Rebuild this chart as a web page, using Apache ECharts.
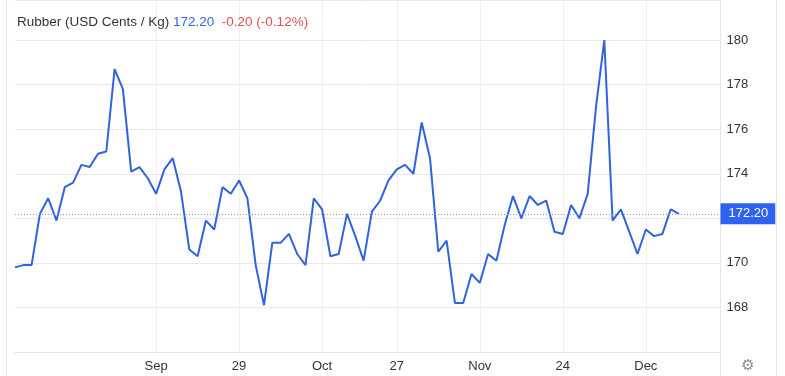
<!DOCTYPE html>
<html>
<head>
<meta charset="utf-8">
<style>
html,body{margin:0;padding:0;background:#fff;}
#chart{width:785px;height:376px;}
</style>
<script src="https://cdn.jsdelivr.net/npm/echarts@6/dist/echarts.min.js"></script>
</head>
<body>
<div id="chart"></div>
<script>
const values = [
  169.8, 169.9, 169.9, 172.2, 172.9, 171.9, 173.4, 173.6, 174.4, 174.3,
  174.9, 175.0, 178.7, 177.8, 174.1, 174.3, 173.8, 173.1, 174.2, 174.7,
  173.2, 170.6, 170.3, 171.9, 171.5, 173.4, 173.1, 173.7, 172.9, 169.9,
  168.1, 170.9, 170.9, 171.3, 170.4, 169.9, 172.9, 172.4, 170.3, 170.4,
  172.2, 171.2, 170.1, 172.3, 172.8, 173.7, 174.2, 174.4, 174.0, 176.3,
  174.7, 170.5, 171.0, 168.2, 168.2, 169.5, 169.1, 170.4, 170.1, 171.7,
  173.0, 172.0, 173.0, 172.6, 172.8, 171.4, 171.3, 172.6, 172.0, 173.1,
  177.0, 180.0, 171.9, 172.4, 171.4, 170.4, 171.5, 171.2, 171.3, 172.4,
  172.2
];
const tickIndex = [17, 27, 37, 46, 56, 66, 76];
const tickLabels = ['Sep', '29', 'Oct', '27', 'Nov', '24', 'Dec'];
const padCount = 5;
const lastValue = 172.20;
const titleName = 'Rubber (USD Cents / Kg)';
const titleValue = '172.20';
const titleChange = '-0.20 (-0.12%)';

const categories = [];
for (let i = 0; i < values.length + padCount; i++) categories.push(String(i));
const labelMap = {};
tickIndex.forEach((idx, k) => { labelMap[idx] = tickLabels[k]; });

const chart = echarts.init(document.getElementById('chart'), null, {renderer: 'canvas'});
const FONT = 'Liberation Sans, Arial, sans-serif';
const dotStyle = {type: [1, 2], color: '#8b90e6', width: 1, opacity: 1};
chart.setOption({
  animation: false,
  backgroundColor: '#ffffff',
  title: {
    left: 17, top: 15, padding: 0,
    text: '{a|' + titleName + '} {b|' + titleValue + '}  {c|' + titleChange + '}',
    textStyle: {
      fontFamily: FONT, fontSize: 13.5, fontWeight: 'normal',
      rich: {
        a: {color: '#333333', fontSize: 13.5, fontFamily: FONT},
        b: {color: '#3366dd', fontSize: 13.5, fontFamily: FONT},
        c: {color: '#e05252', fontSize: 13.5, fontFamily: FONT}
      }
    }
  },
  grid: {left: 15, right: 64.5, top: 0, bottom: 24, containLabel: false},
  xAxis: {
    type: 'category',
    data: categories,
    boundaryGap: false,
    axisLine: {show: true, lineStyle: {color: '#e3e3e3', width: 1}},
    axisTick: {show: false},
    axisLabel: {
      interval: (idx) => labelMap[idx] !== undefined,
      formatter: (v, idx) => labelMap[idx] || '',
      color: '#333333', fontSize: 13, fontFamily: FONT, margin: 8
    },
    splitLine: {
      show: true,
      interval: (idx) => labelMap[idx] !== undefined,
      lineStyle: {color: '#f0f0f0', width: 1}
    }
  },
  yAxis: {
    type: 'value',
    position: 'right',
    min: 166, max: 181.8, interval: 2,
    axisLine: {show: false},
    axisTick: {show: false},
    axisLabel: {
      color: '#333333', fontSize: 13, fontFamily: FONT, margin: 6,
      showMinLabel: false, showMaxLabel: false,
      formatter: (v) => (v === 166 || v > 181) ? '' : String(v)
    },
    splitLine: {show: true, lineStyle: {color: '#e8e8e8', width: 1}}
  },
  series: [{
    type: 'line',
    data: values,
    symbol: 'none',
    lineStyle: {color: '#3163dc', width: 2},
    z: 3,
    markLine: {
      silent: true,
      symbol: ['none', 'none'],
      data: [{yAxis: lastValue, lineStyle: dotStyle}],
      lineStyle: dotStyle,
      label: {
        show: true, position: 'end', distance: 0,
        formatter: () => lastValue.toFixed(2),
        color: '#ffffff', backgroundColor: '#2f62f0',
        fontSize: 13, fontFamily: FONT,
        padding: [4, 7, 4, 8]
      }
    }
  }],
  graphic: [
    {type: 'line', shape: {x1: 6.5, y1: 0, x2: 6.5, y2: 376}, style: {stroke: '#e6e6e6', lineWidth: 1}, silent: true},
    {type: 'line', shape: {x1: 720.5, y1: 0, x2: 720.5, y2: 376}, style: {stroke: '#e6e6e6', lineWidth: 1}, silent: true},
    {type: 'line', shape: {x1: 776.5, y1: 0, x2: 776.5, y2: 376}, style: {stroke: '#e6e6e6', lineWidth: 1}, silent: true},
    {type: 'text', x: 748, y: 366, style: {text: '\u2699', fill: '#8a8a8a', fontSize: 15, fontFamily: 'DejaVu Sans', align: 'center', verticalAlign: 'middle'}, silent: true}
  ]
});
</script>
</body>
</html>
